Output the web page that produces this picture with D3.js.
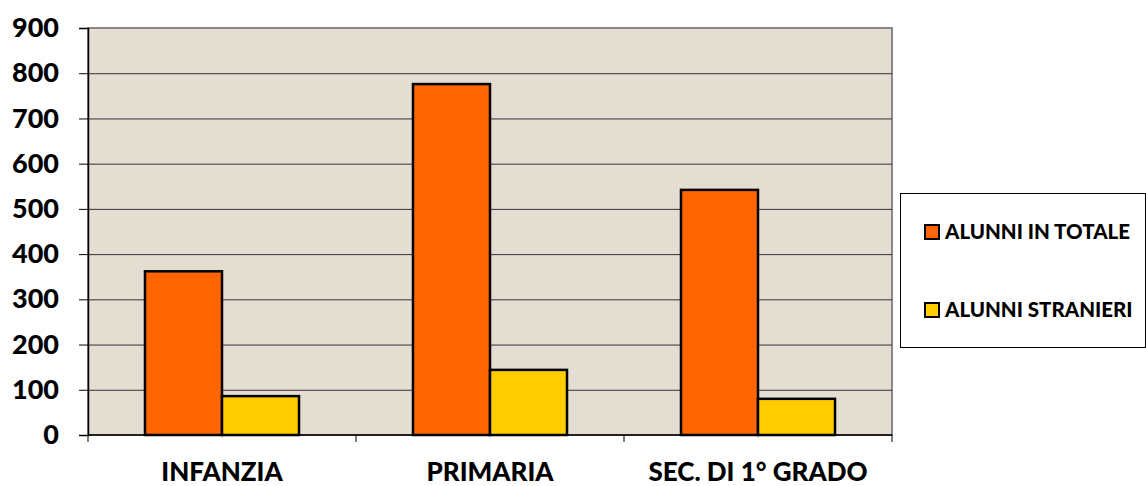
<!DOCTYPE html>
<html>
<head>
<meta charset="utf-8">
<script src="https://cdn.jsdelivr.net/npm/d3@7"></script>
<style>
  body { margin: 0; background: #fff; }
  text { font-family: Lato, "Open Sans", sans-serif; font-weight: 900; fill: #000; }
</style>
</head>
<body>
<figure style="margin:0"></figure>
<script>
// data
const categories = ["INFANZIA", "PRIMARIA", "SEC. DI 1° GRADO"];
const seriesNames = ["ALUNNI IN TOTALE", "ALUNNI STRANIERI"];
const totale = [362, 776, 542];
const stranieri = [86, 144, 80];
const yTicks = [0, 100, 200, 300, 400, 500, 600, 700, 800, 900];
const colors = ["#ff6600", "#ffcc00"];

const width = 1146, height = 486;
const padL = 88, padR = 892, padT = 28, padB = 435;

const svg = d3.select("figure").append("svg")
    .attr("width", width).attr("height", height);

const rows = categories.map((c, i) => ({cat: c, vals: [totale[i], stranieri[i]]}));

const x0 = d3.scaleBand().domain(categories).range([padL, padR]).padding(0);
const x1 = d3.scaleBand().domain(seriesNames).range([0, x0.bandwidth()])
    .paddingInner(0).paddingOuter(0.74);
const y = d3.scaleLinear().domain([0, 900]).range([padB, padT]);

// plot background
svg.append("rect")
    .attr("x", padL).attr("y", padT)
    .attr("width", padR - padL).attr("height", padB - padT)
    .attr("fill", "#e4ddd2")
    .attr("stroke", "#888").attr("stroke-width", 2);

// gridlines
svg.append("g").selectAll("line")
    .data(yTicks.filter(d => d > 0 && d < 900))
    .enter().append("line")
    .attr("x1", padL).attr("x2", padR)
    .attr("y1", d => y(d) + 0.5).attr("y2", d => y(d) + 0.5)
    .attr("stroke", "#333").attr("stroke-width", 1);

// bars
const groups = svg.selectAll("g.cat")
    .data(rows).enter().append("g")
    .attr("class", "cat")
    .attr("transform", d => "translate(" + x0(d.cat) + ",0)");

groups.selectAll("rect")
    .data(d => d.vals.map((v, i) => ({s: seriesNames[i], v: v, i: i})))
    .enter().append("rect")
    .attr("x", d => x1(d.s))
    .attr("y", d => y(d.v))
    .attr("width", x1.bandwidth())
    .attr("height", d => y(0) - y(d.v))
    .attr("fill", d => colors[d.i])
    .attr("stroke", "#000").attr("stroke-width", 2.5);

// y axis
const yAxis = svg.append("g")
    .attr("transform", "translate(" + padL + ",0)")
    .call(d3.axisLeft(y).tickValues(yTicks).tickSize(9).tickPadding(20));
yAxis.select(".domain").attr("stroke", "#000").attr("stroke-width", 1.5);
yAxis.selectAll(".tick line").attr("stroke", "#000");
yAxis.selectAll("text")
    .style("font-size", "27px").style("font-family", "Lato, sans-serif")
    .style("font-weight", "900");

// x axis
const xAxis = svg.append("g").attr("transform", "translate(0," + padB + ")");
xAxis.append("line")
    .attr("x1", padL).attr("x2", padR)
    .attr("stroke", "#000").attr("stroke-width", 1.5);
xAxis.selectAll("line.tk")
    .data([...categories.map(c => x0(c)), padR])
    .enter().append("line").attr("class", "tk")
    .attr("x1", d => d).attr("x2", d => d)
    .attr("y1", 0).attr("y2", 7)
    .attr("stroke", "#000");
xAxis.selectAll("text")
    .data(categories).enter().append("text")
    .attr("x", d => x0(d) + x0.bandwidth() / 2)
    .attr("y", 46)
    .attr("text-anchor", "middle")
    .style("font-size", "26px")
    .text(d => d);

// legend
const legend = svg.append("g");
legend.append("rect")
    .attr("x", 900.5).attr("y", 193.5)
    .attr("width", 245).attr("height", 154)
    .attr("fill", "#fff").attr("stroke", "#000").attr("stroke-width", 1);
const items = legend.selectAll("g.item")
    .data(seriesNames).enter().append("g")
    .attr("transform", (d, i) => "translate(925," + (232 + i * 78) + ")");
items.append("rect")
    .attr("x", 0).attr("y", -7)
    .attr("width", 14).attr("height", 14)
    .attr("fill", (d, i) => colors[i])
    .attr("stroke", "#000").attr("stroke-width", 2);
items.append("text")
    .attr("x", 20).attr("y", 7)
    .style("font-size", "20.5px")
    .text(d => d);
</script>
</body>
</html>
